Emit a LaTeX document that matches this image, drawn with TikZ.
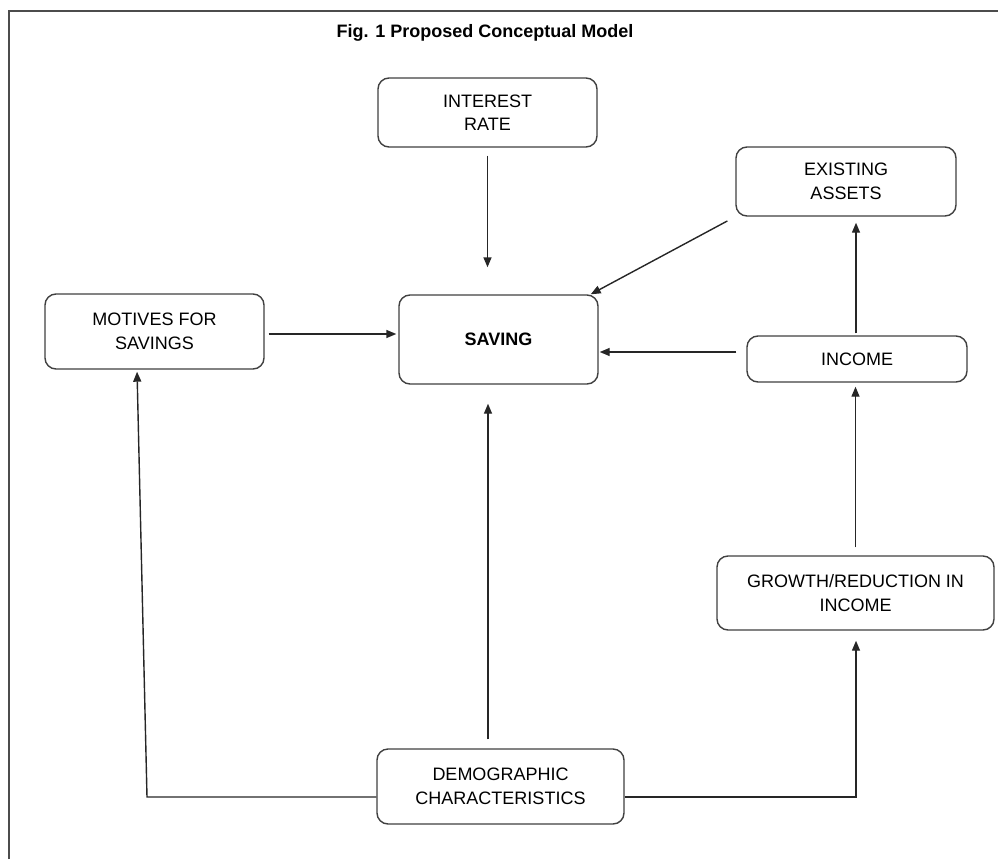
\documentclass[tikz,border=0pt]{standalone}
\usepackage{fontspec}
\setmainfont{Liberation Sans}
\usepackage{tikz}
\usetikzlibrary{arrows.meta}
\tikzset{
  mybox/.style={draw=black!75, line width=1.4pt, rounded corners=11pt,
    fill=white, align=center, inner sep=0pt,
    font=\fontsize{18}{23.5}\selectfont},
  myarr/.style={draw=black!85, line width=1.4pt,
    -{Triangle[length=10pt,width=8pt]}},
}
\begin{document}
\begin{tikzpicture}[x=1pt,y=-1pt]
\useasboundingbox (0,0) rectangle (998,859);
% frame
\draw[black!70, line width=1.6pt] (9,859) -- (9,11) -- (998,11);
\node (title) at (485,33) {\fontsize{18}{20}\selectfont\bfseries Fig. 1 Proposed Conceptual Model};
% boxes
\node[mybox, minimum width=219pt, minimum height=69pt] (interest) at (487.5,112.5) {INTEREST\\RATE};
\node[mybox, minimum width=220pt, minimum height=69pt] (assets) at (846,181.5) {EXISTING\\ASSETS};
\node[mybox, minimum width=219pt, minimum height=75pt] (motives) at (154.5,331.5) {MOTIVES FOR\\SAVINGS};
\node[mybox, minimum width=199pt, minimum height=89pt] (saving) at (498.5,339.5) {\bfseries SAVING};
\node[mybox, minimum width=220pt, minimum height=46pt] (income) at (857,359) {INCOME};
\node[mybox, minimum width=277pt, minimum height=74pt] (growth) at (855.5,593) {GROWTH/REDUCTION IN\\INCOME};
\node[mybox, minimum width=247pt, minimum height=75pt] (demog) at (500.5,786.5) {DEMOGRAPHIC\\CHARACTERISTICS};
\coordinate (lcorner) at (147,797);
\coordinate (rcorner) at (856,797);
% arrows
\draw[myarr, shorten <=8pt, shorten >=27pt]
  (interest.south) -- (interest.south |- saving.north);
\draw[myarr, shorten <=9pt]
  (assets.south west) -- ([xshift=-8pt]saving.north east);
\draw[myarr, shorten <=4pt, shorten >=2pt]
  ([yshift=-2.5pt]motives.east) -- ([yshift=-2.5pt]motives.east -| saving.west);
\draw[myarr, shorten <=10pt, shorten >=1pt]
  ([yshift=7pt]income.west) -- ([yshift=7pt]income.west -| saving.east);
\draw[myarr, shorten <=2pt, shorten >=6pt]
  ([xshift=-1pt]income.north) -- ([xshift=-1pt]income.north |- assets.south);
\draw[myarr, shorten <=8pt, shorten >=4pt]
  (growth.north) -- (growth.north |- income.south);
\draw[myarr, shorten <=9pt, shorten >=19pt]
  ([xshift=-12.5pt]demog.north) -- ([xshift=-12.5pt]demog.north |- saving.south);
\draw[myarr, shorten >=2pt]
  ([yshift=-10.5pt]demog.west) -- (lcorner) -- ([xshift=-17.5pt]motives.south);
\draw[myarr, shorten >=10pt]
  ([yshift=-10.5pt]demog.east) -- (rcorner) -- (rcorner |- growth.south);
\end{tikzpicture}
\end{document}
